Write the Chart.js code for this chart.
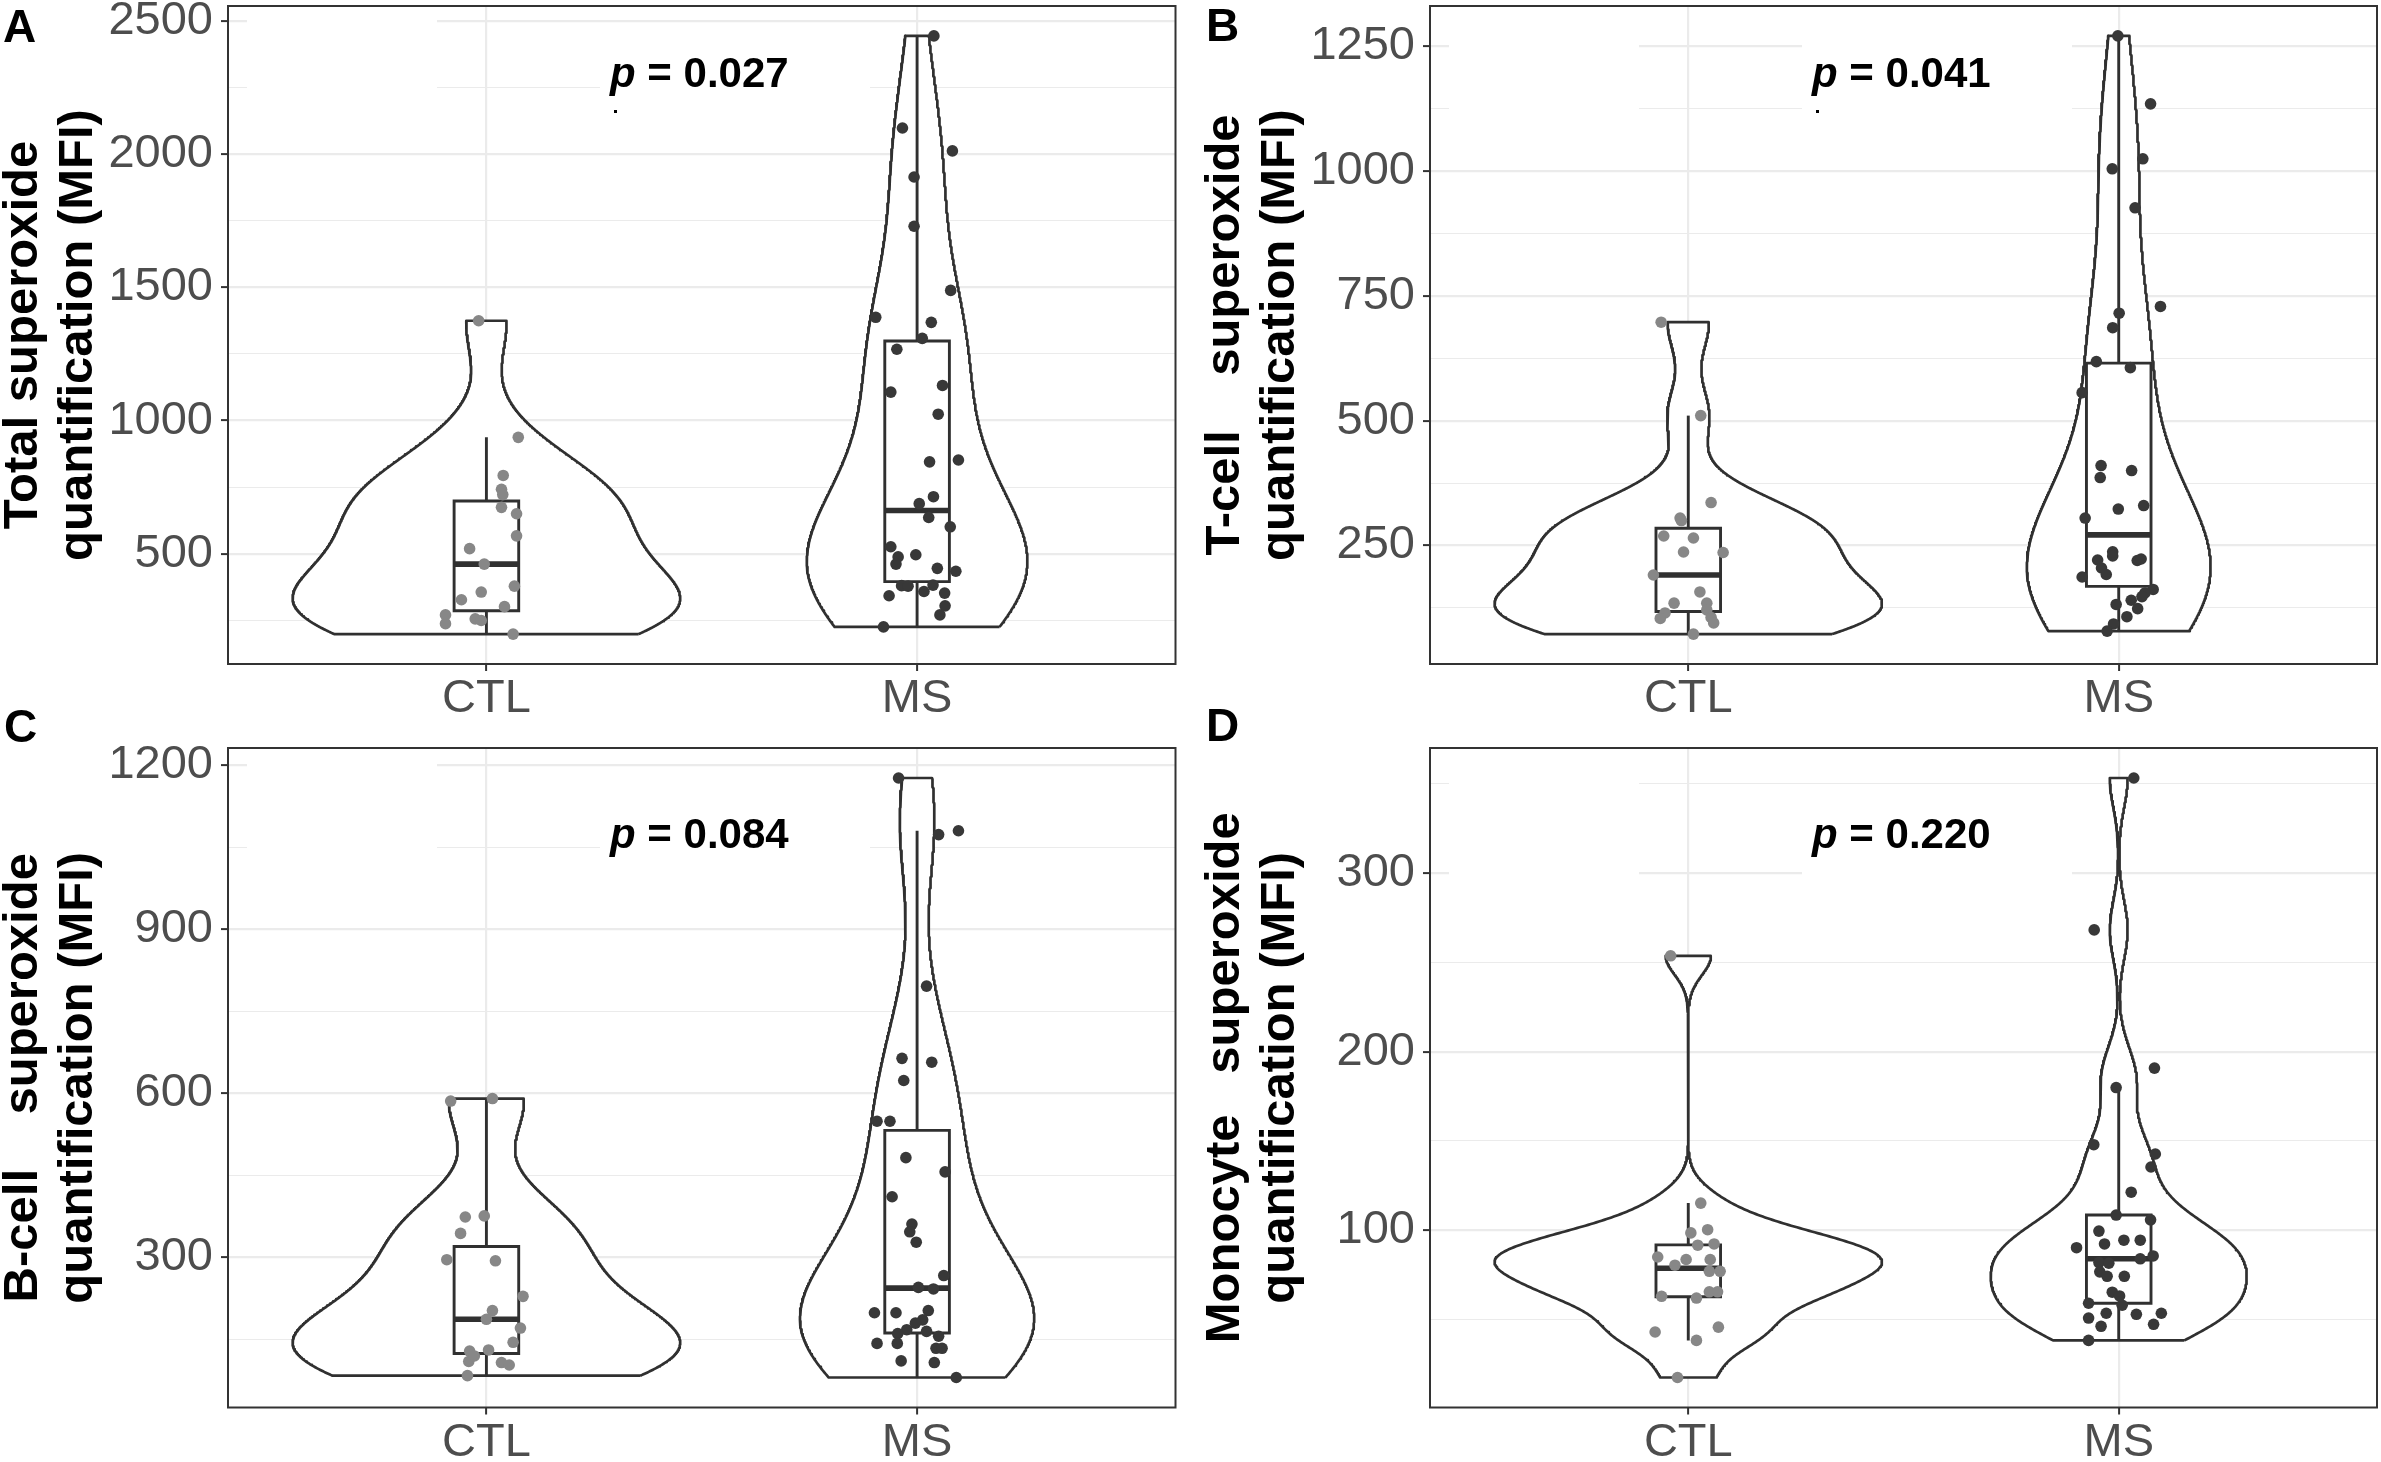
<!DOCTYPE html>
<html>
<head>
<meta charset="utf-8">
<script src="https://cdn.jsdelivr.net/npm/chart.js@4.4.1/dist/chart.umd.min.js"></script>
<style>
  html, body { margin: 0; padding: 0; background: #ffffff; }
  body { width: 2381px; height: 1462px; position: relative; overflow: hidden; }
  .panel { position: absolute; }
  canvas { display: block; }
</style>
</head>
<body>
<div class="panel" style="left:0px;top:0px;width:1190px;height:720px"><canvas id="cA" width="1190" height="720" style="width:1190px;height:720px"></canvas></div>
<div class="panel" style="left:1190px;top:0px;width:1191px;height:720px"><canvas id="cB" width="1191" height="720" style="width:1191px;height:720px"></canvas></div>
<div class="panel" style="left:0px;top:700px;width:1190px;height:762px"><canvas id="cC" width="1190" height="762" style="width:1190px;height:762px"></canvas></div>
<div class="panel" style="left:1190px;top:700px;width:1191px;height:762px"><canvas id="cD" width="1191" height="762" style="width:1191px;height:762px"></canvas></div>
<script>
// ---------------- DATA ----------------
const categories = ['CTL', 'MS'];

// Panel A : Total superoxide (MFI)
const A_CTL = [1375, 937, 794, 742, 722, 674, 650, 567, 519, 461, 378, 356, 327, 301, 270, 237, 255, 249, 198];
const A_CTL_JITTER = [-0.018, 0.074, 0.039, 0.035, 0.038, 0.035, 0.07, 0.07, -0.039, -0.005, 0.065, -0.012, -0.058, 0.042, -0.095, -0.095, -0.026, -0.012, 0.062];
const A_MS = [2445, 2099, 2013, 1915, 1730, 1489, 1388, 1369, 1309, 1268, 1132, 1107, 1024, 845, 852, 714, 688, 636, 601, 526, 488, 461, 496, 445, 434, 380, 378, 342, 358, 382, 352, 304, 270, 225];
const A_MS_JITTER = [0.039, -0.034, 0.082, -0.007, -0.007, 0.078, -0.096, 0.033, 0.012, -0.047, 0.059, -0.061, 0.049, 0.029, 0.096, 0.038, 0.005, 0.027, 0.077, -0.061, -0.044, -0.049, -0.003, 0.047, 0.090, -0.036, -0.021, -0.065, 0.016, 0.037, 0.064, 0.065, 0.053, -0.078];
const A_MAJOR = [500, 1000, 1500, 2000, 2500];
const A_MINOR = [250, 750, 1250, 1750, 2250];
const A_P = '0.027';

// Panel B : T-cell superoxide (MFI)
const B_CTL = [697, 510, 336, 305, 269, 265, 237, 236, 191, 157, 134.6, 134.6, 115, 104, 121, 106, 95, 72.7, 300];
const B_CTL_JITTER = [-0.063, 0.029, 0.053, -0.019, -0.057, 0.012, -0.011, 0.081, -0.081, 0.027, -0.033, 0.043, -0.054, -0.065, 0.043, 0.053, 0.059, 0.012, -0.016];
const B_MS = [1270, 1134, 1024, 1004, 926, 728.5, 715, 686, 618, 606, 556, 410, 386, 400, 323, 330, 305, 237.5, 229, 221, 205, 192, 220, 223, 187, 162, 155, 147.7, 140.4, 123.6, 132, 107.5, 93, 78.6];
const B_MS_JITTER = [-0.002, 0.074, 0.056, -0.015, 0.038, 0.097, 0.001, -0.014, -0.052, 0.027, -0.085, -0.041, -0.043, 0.030, -0.001, 0.058, -0.078, -0.014, -0.014, -0.049, -0.040, -0.029, 0.043, 0.052, -0.085, 0.080, 0.061, 0.054, 0.029, 0.044, -0.006, 0.019, -0.012, -0.027];
const B_MAJOR = [250, 500, 750, 1000, 1250];
const B_MINOR = [125, 375, 625, 875, 1125];
const B_P = '0.041';

// Panel C : B-cell superoxide (MFI)
const C_CTL = [586, 590.5, 374, 376, 344, 296, 294, 229, 203, 171, 145, 129, 131, 110, 108, 103.5, 84, 187, 120];
const C_CTL_JITTER = [-0.083, 0.014, -0.049, -0.005, -0.060, -0.092, 0.021, 0.085, 0.014, 0.079, 0.062, -0.039, 0.005, -0.041, 0.035, 0.053, -0.044, 0.0, -0.028];
const C_MS = [1176.5, 1073, 1080, 796, 664, 657, 623.5, 549, 549, 482.5, 456.5, 411, 361, 347, 328, 267, 245.4, 242.5, 199, 199, 203, 186, 180, 168, 161, 165, 156, 143, 143, 134, 134, 111, 108, 80.6];
const C_MS_JITTER = [-0.043, 0.050, 0.096, 0.022, -0.035, 0.034, -0.031, -0.093, -0.063, -0.026, 0.065, -0.058, -0.012, -0.017, -0.002, 0.062, 0.003, 0.038, -0.099, -0.049, 0.026, 0.013, -0.004, -0.024, -0.045, 0.022, 0.050, -0.093, -0.046, 0.044, 0.058, -0.037, 0.040, 0.091];
const C_MAJOR = [300, 600, 900, 1200];
const C_MINOR = [150, 450, 750, 1050];
const C_P = '0.084';

// Panel D : Monocyte superoxide (MFI)
const D_CTL = [253.7, 115.2, 98.5, 100.3, 91.6, 92.3, 85, 83.6, 83.6, 80.4, 77, 77, 63, 62, 65.5, 65.5, 43, 45.7, 38.3, 17.5];
const D_CTL_JITTER = [-0.041, 0.029, 0.006, 0.045, 0.022, 0.060, -0.071, -0.005, 0.051, -0.031, 0.049, 0.074, -0.062, 0.019, 0.049, 0.068, -0.077, 0.070, 0.019, -0.025];
const D_MS = [353.3, 268.2, 190.8, 179.9, 147.9, 142.7, 135.4, 121.3, 108.5, 105.8, 99.5, 90.2, 92.3, 94.4, 94.4, 85.6, 84, 81.9, 81.5, 76.7, 74.2, 74.2, 65.3, 63.2, 59.1, 58, 53.5, 50.8, 52.9, 53.5, 46.2, 47.3, 38.3];
const D_MS_JITTER = [0.035, -0.057, 0.083, -0.006, -0.058, 0.085, 0.075, 0.029, -0.006, 0.074, -0.046, -0.098, -0.033, 0.012, 0.050, 0.080, 0.050, -0.046, -0.023, -0.044, -0.027, 0.013, -0.015, 0.002, -0.070, 0.008, -0.029, -0.070, 0.041, 0.099, -0.041, 0.081, -0.070];
const D_MAJOR = [100, 200, 300];
const D_MINOR = [50, 150, 250, 350];
const D_P = '0.220';

// ---------------- STATISTICS (ggplot-like) ----------------
const FONT = '"Liberation Sans", Arial, Helvetica, sans-serif';
function sortAsc(a) { return [...a].sort((p, q) => p - q); }
function q7(s, p) {
  const h = (s.length - 1) * p, lo = Math.floor(h), hi = Math.min(lo + 1, s.length - 1);
  return s[lo] + (h - lo) * (s[hi] - s[lo]);
}
function boxStats(v) {
  const s = sortAsc(v);
  const q1 = q7(s, 0.25), med = q7(s, 0.5), q3 = q7(s, 0.75), iqr = q3 - q1;
  const lo = s.find(x => x >= q1 - 1.5 * iqr);
  const hi = [...s].reverse().find(x => x <= q3 + 1.5 * iqr);
  return { q1, med, q3, lo, hi };
}
function bwNrd0(v) {
  const n = v.length, m = v.reduce((a, b) => a + b, 0) / n;
  const sd = Math.sqrt(v.reduce((a, b) => a + (b - m) * (b - m), 0) / (n - 1));
  const s = sortAsc(v);
  const iqr = q7(s, 0.75) - q7(s, 0.25);
  let lo = Math.min(sd, iqr / 1.34);
  if (!(lo > 0)) lo = sd || Math.abs(s[0]) || 1;
  return 0.9 * lo * Math.pow(n, -0.2);
}
function violinData(v, n = 512) {
  const s = sortAsc(v), lo = s[0], hi = s[s.length - 1], bw = bwNrd0(v);
  const ys = [], ds = [];
  const k = 1 / (v.length * bw * Math.sqrt(2 * Math.PI));
  for (let i = 0; i < n; i++) {
    const y = lo + (hi - lo) * i / (n - 1);
    let d = 0;
    for (const xi of v) { const z = (y - xi) / bw; d += Math.exp(-0.5 * z * z); }
    ys.push(y); ds.push(d * k);
  }
  return { ys, ds };
}

// ---------------- DECORATION PLUGIN ----------------
const decoPlugin = {
  id: 'deco',
  beforeDatasetsDraw(chart, args, o) {
    const { ctx, chartArea: ca } = chart;
    ctx.save();
    ctx.fillStyle = '#ffffff';
    ctx.fillRect(ca.left + 19, ca.top + 1, 190, 131);
    ctx.fillRect(ca.left + 372, ca.top + o.pTop, 270, 100);
    ctx.restore();
  },
  afterDraw(chart, args, o) {
    const { ctx, chartArea: ca } = chart;
    ctx.save();
    ctx.strokeStyle = '#333333';
    ctx.lineWidth = 2;
    ctx.strokeRect(ca.left, ca.top, ca.right - ca.left, ca.bottom - ca.top);
    ctx.fillStyle = '#000000';
    ctx.textAlign = 'left';
    ctx.textBaseline = 'alphabetic';
    let x = ca.left + 382;
    const y = ca.top + o.pBase;
    ctx.font = 'italic bold 42px ' + FONT;
    ctx.fillText('p', x, y);
    x += ctx.measureText('p').width;
    ctx.font = 'bold 42px ' + FONT;
    ctx.fillText(' = ' + o.p, x, y);
    if (o.dot) ctx.fillRect(ca.left + 386, ca.top + 104, 3, 3);
    ctx.font = 'bold 46px ' + FONT;
    ctx.fillText(o.letter, o.lx, o.ly);
    ctx.restore();
  }
};

// ---------------- PANEL BUILDER ----------------
function buildPanel(cfg) {
  const groups = [cfg.ctl, cfg.ms];
  const jits = [cfg.ctlJit, cfg.msJit];
  const colors = ['#878787', '#383838'];
  const all = groups.flat();
  const lo = Math.min(...all), hi = Math.max(...all), pad = (hi - lo) * 0.05;
  const yMin = lo - pad, yMax = hi + pad;
  const majors = cfg.major, yTicks = sortAsc(cfg.major.concat(cfg.minor));
  const vio = groups.map(g => violinData(g));
  const dmax = Math.max(...vio.flatMap(v => v.ds));
  const datasets = [];
  let k = 0;
  const add = ds => { ds.order = -(k++); datasets.push(ds); };
  const seg = (pts, w) => ({ data: pts, showLine: true, fill: false, borderColor: '#303030', borderWidth: w, pointRadius: 0, tension: 0, borderCapStyle: 'butt' });

  vio.forEach((v, gi) => {
    const c = gi + 1, pts = [];
    v.ys.forEach((y, i) => pts.push({ x: c + 0.45 * v.ds[i] / dmax, y }));
    for (let i = v.ys.length - 1; i >= 0; i--) pts.push({ x: c - 0.45 * v.ds[i] / dmax, y: v.ys[i] });
    pts.push({ x: pts[0].x, y: pts[0].y });
    add({ data: pts, showLine: true, fill: 'shape', backgroundColor: '#ffffff', borderColor: '#303030', borderWidth: 2.7, pointRadius: 0, tension: 0, borderJoinStyle: 'round' });
  });
  groups.forEach((g, gi) => {
    const c = gi + 1, b = boxStats(g), hw = 0.075;
    add(seg([{ x: c, y: b.q3 }, { x: c, y: b.hi }], 2.9));
    add(seg([{ x: c, y: b.lo }, { x: c, y: b.q1 }], 2.9));
    add({ data: [{ x: c - hw, y: b.q1 }, { x: c + hw, y: b.q1 }, { x: c + hw, y: b.q3 }, { x: c - hw, y: b.q3 }, { x: c - hw, y: b.q1 }],
          showLine: true, fill: 'shape', backgroundColor: '#ffffff', borderColor: '#303030', borderWidth: 2.9, pointRadius: 0, tension: 0,
          borderJoinStyle: 'miter', borderCapStyle: 'square' });
    add(seg([{ x: c - hw, y: b.med }, { x: c + hw, y: b.med }], 5.6));
  });
  groups.forEach((g, gi) => {
    add({ data: g.map((y, i) => ({ x: gi + 1 + jits[gi][i], y })), showLine: false, pointRadius: 5.8, pointBorderWidth: 0,
          pointBackgroundColor: colors[gi], pointBorderColor: colors[gi] });
  });

  const tickFont = { family: FONT, size: 47, lineHeight: 1.2 };
  return new Chart(document.getElementById(cfg.canvas), {
    type: 'scatter',
    data: { datasets },
    options: {
      responsive: false, animation: false, events: [], devicePixelRatio: 1,
      layout: { autoPadding: false, padding: cfg.padding },
      plugins: { legend: { display: false }, tooltip: { enabled: false },
                 deco: { p: cfg.p, pTop: cfg.pTop, pBase: cfg.pBase, dot: cfg.dot, letter: cfg.letter, lx: cfg.lx, ly: cfg.ly } },
      scales: {
        x: {
          type: 'linear', min: 0.4, max: 2.6, bounds: 'data',
          afterBuildTicks: s => { s.ticks = [{ value: 1 }, { value: 2 }]; },
          afterFit: s => { s.height = cfg.xH; s.paddingLeft = 0; s.paddingRight = 0; },
          ticks: { callback: v => categories[v - 1] || '', font: tickFont, color: '#4d4d4d', padding: 0, maxRotation: 0, minRotation: 0, autoSkip: false },
          grid: { color: '#ebebeb', lineWidth: 2.2, tickColor: '#333333', tickLength: 7, tickWidth: 2 },
          border: { display: false }
        },
        y: {
          type: 'linear', min: yMin, max: yMax, bounds: 'data',
          afterBuildTicks: s => { s.ticks = yTicks.map(v => ({ value: v })); },
          afterFit: s => { s.width = 228; s.paddingTop = 0; s.paddingBottom = 0; },
          ticks: { callback: v => majors.includes(v) ? String(v) : '', font: tickFont, color: '#4d4d4d', padding: 8, autoSkip: false },
          grid: {
            color: '#ebebeb',
            lineWidth: c => (c.tick && majors.includes(c.tick.value)) ? 2.2 : 1.1,
            tickColor: c => (c.tick && majors.includes(c.tick.value)) ? '#333333' : 'rgba(0,0,0,0)',
            tickLength: 7, tickWidth: 2
          },
          border: { display: false },
          title: { display: true, text: cfg.title, color: '#000000',
                   font: { family: FONT, size: 49, weight: 'bold', lineHeight: 1.12 }, padding: { top: -4, bottom: 0 } }
        }
      }
    },
    plugins: [decoPlugin]
  });
}

buildPanel({ canvas: 'cA', ctl: A_CTL, ctlJit: A_CTL_JITTER, ms: A_MS, msJit: A_MS_JITTER, major: A_MAJOR, minor: A_MINOR,
  title: ['Total superoxide', 'quantification (MFI)'], p: A_P, pTop: 20, pBase: 80.5, dot: true,
  letter: 'A', lx: 3, ly: 42, padding: { left: 0, right: 14.5, top: 6, bottom: 0 }, xH: 56 });
buildPanel({ canvas: 'cB', ctl: B_CTL, ctlJit: B_CTL_JITTER, ms: B_MS, msJit: B_MS_JITTER, major: B_MAJOR, minor: B_MINOR,
  title: ['T-cell    superoxide', 'quantification (MFI)'], p: B_P, pTop: 20, pBase: 80.5, dot: true,
  letter: 'B', lx: 16, ly: 41, padding: { left: 12, right: 4, top: 6, bottom: 0 }, xH: 56 });
buildPanel({ canvas: 'cC', ctl: C_CTL, ctlJit: C_CTL_JITTER, ms: C_MS, msJit: C_MS_JITTER, major: C_MAJOR, minor: C_MINOR,
  title: ['B-cell    superoxide', 'quantification (MFI)'], p: C_P, pTop: 40, pBase: 100, dot: false,
  letter: 'C', lx: 4, ly: 42, padding: { left: 0, right: 14.5, top: 48, bottom: 0 }, xH: 54.5 });
buildPanel({ canvas: 'cD', ctl: D_CTL, ctlJit: D_CTL_JITTER, ms: D_MS, msJit: D_MS_JITTER, major: D_MAJOR, minor: D_MINOR,
  title: ['Monocyte   superoxide', 'quantification (MFI)'], p: D_P, pTop: 40, pBase: 100, dot: false,
  letter: 'D', lx: 16, ly: 41, padding: { left: 12, right: 4, top: 48, bottom: 0 }, xH: 54.5 });
</script>
</body>
</html>
